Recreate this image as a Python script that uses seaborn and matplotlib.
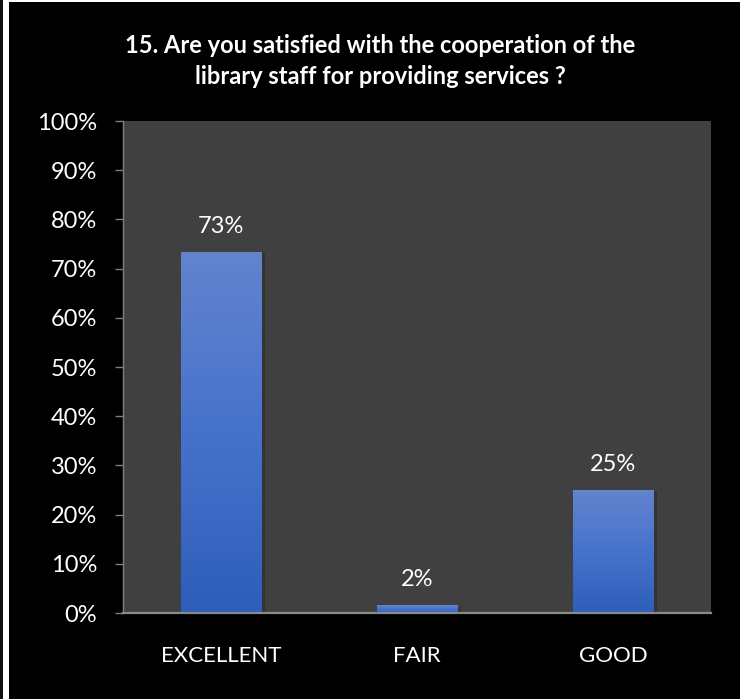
import numpy as np
import pandas as pd
import matplotlib
matplotlib.use("Agg")
import matplotlib.pyplot as plt
import matplotlib.patches as mpatches
from matplotlib.colors import LinearSegmentedColormap
import seaborn as sns

categories = ["EXCELLENT", "FAIR", "GOOD"]
values = [73.4, 1.6, 25.0]
labels = ["73%", "2%", "25%"]
yticks = [0, 10, 20, 30, 40, 50, 60, 70, 80, 90, 100]
title = "15. Are you satisfied with the cooperation of the\nlibrary staff for providing services ?"

sns.set_theme(style="white")
plt.rcParams['font.family'] = ['Lato', 'DejaVu Sans']

W, H, DPI = 747, 699, 100
fig = plt.figure(figsize=(W / DPI, H / DPI), dpi=DPI, facecolor="white")
# black panel with white frame
fig.add_artist(mpatches.Rectangle((9 / W, 0), (740 - 9) / W, (H - 2) / H,
                                  transform=fig.transFigure, facecolor="black",
                                  edgecolor="none", zorder=-10))
fig.add_artist(mpatches.Rectangle((0, 0), 2.5 / W, 1, transform=fig.transFigure,
                                  facecolor="#111111", edgecolor="none", zorder=-10))

left, right, top, bottom = 123, 711, 121, 613
ax = fig.add_axes([left / W, 1 - bottom / H, (right - left) / W, (bottom - top) / H])
ax.set_facecolor("#404040")

df = pd.DataFrame({"cat": categories, "val": values})
sns.barplot(data=df, x="cat", y="val", ax=ax, width=0.41, color="#4472C4",
            saturation=1, edgecolor="none")

ax.set_xlim(-0.5, 2.5)
ax.set_ylim(0, 100)

cmap = LinearSegmentedColormap.from_list("g", ["#2E5EBA", "#4672CB", "#6384CE"])
grad = np.linspace(0, 1, 256).reshape(-1, 1)
for p in ax.patches:
    x0, y0 = p.get_x(), p.get_y()
    w, h = p.get_width(), p.get_height()
    # subtle shadow
    ax.add_patch(mpatches.Rectangle((x0 + 0.012, y0), w + 0.01, h - 0.3,
                                    facecolor="black", alpha=0.18,
                                    edgecolor="none", zorder=1))
    im = ax.imshow(grad, extent=(x0, x0 + w, y0, y0 + h), origin="lower",
                   cmap=cmap, aspect="auto", zorder=2)
    im.set_clip_path(p)
    p.set_facecolor("none")
    p.set_zorder(3)

for i, (v, lab) in enumerate(zip(values, labels)):
    ax.text(i, v + 3.0, lab, ha="center", va="bottom", color="white", fontsize=17)

ax.set_yticks(yticks)
ax.set_yticklabels([f"{t}%" for t in yticks])
ax.set_xlabel("")
ax.set_ylabel("")

for s in ["top", "right"]:
    ax.spines[s].set_visible(False)
ax.spines["left"].set_color("#7f7f7f")
ax.spines["left"].set_linewidth(1.0)
ax.spines["bottom"].set_color("#8a8a8a")
ax.spines["bottom"].set_linewidth(1.6)

ax.tick_params(axis="y", colors="#7f7f7f", length=6, width=1.0, direction="out",
               left=True, pad=12.5, labelsize=17, labelcolor="white")
ax.tick_params(axis="x", length=0, pad=24, labelsize=16, labelcolor="white")

fig.text(380 / W, 1 - 61 / H, title, ha="center", va="center", color="white",
         fontsize=17, fontweight="bold", linespacing=1.4)

fig.savefig("out.png", dpi=DPI, facecolor=fig.get_facecolor())
